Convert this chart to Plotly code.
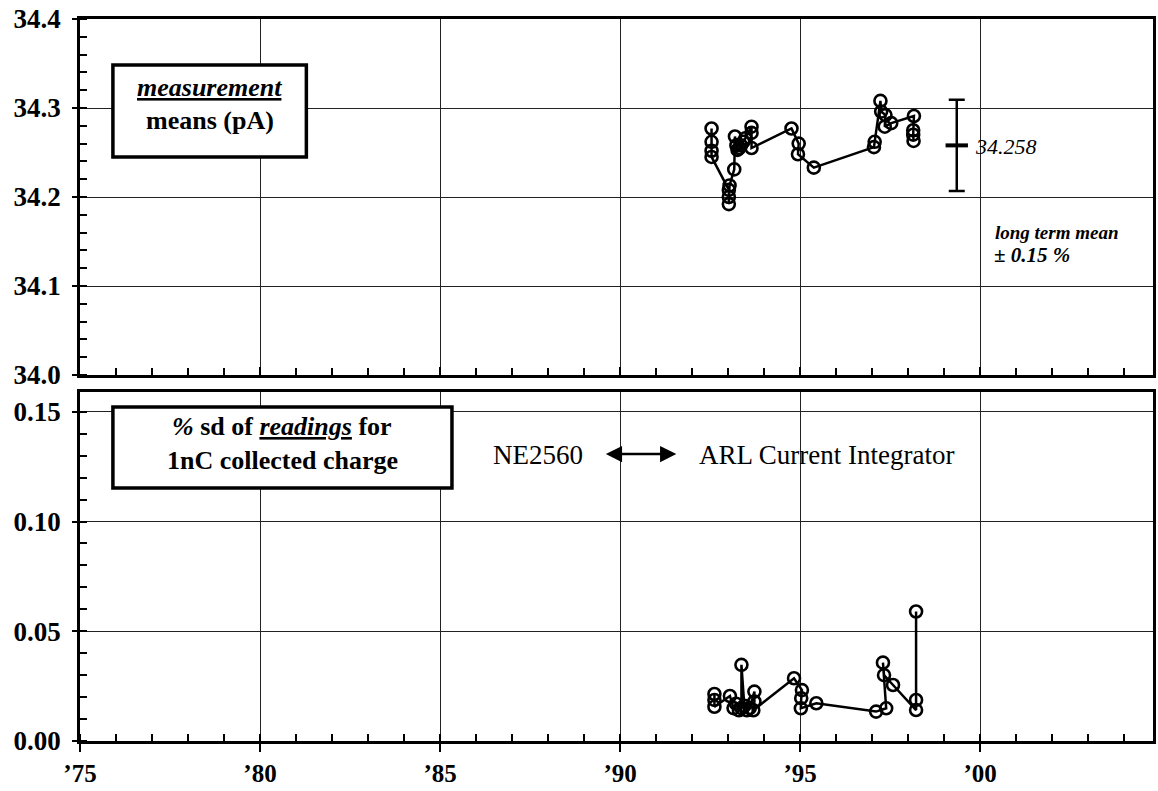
import plotly.graph_objects as go

# ---------------- data ----------------
top_years = [1992.54, 1992.54, 1992.54, 1992.54, 1993.02, 1993.02, 1993.02, 1993.04,
             1993.17, 1993.19, 1993.23, 1993.26, 1993.31, 1993.36, 1993.42, 1993.48,
             1993.65, 1993.65, 1993.65, 1994.76, 1994.96, 1994.94, 1995.38, 1997.05,
             1997.07, 1997.23, 1997.25, 1997.37, 1997.35, 1997.53, 1998.16, 1998.14,
             1998.14, 1998.15]
top_vals = [34.277, 34.262, 34.252, 34.245, 34.208, 34.200, 34.192, 34.213,
            34.231, 34.268, 34.258, 34.253, 34.255, 34.258, 34.262, 34.266,
            34.279, 34.272, 34.255, 34.277, 34.260, 34.248, 34.233, 34.256,
            34.262, 34.308, 34.296, 34.292, 34.279, 34.283, 34.291, 34.275,
            34.270, 34.263]

bot_years = [1992.62, 1992.62, 1992.62, 1993.05, 1993.15, 1993.22, 1993.30, 1993.37,
             1993.37, 1993.45, 1993.52, 1993.60, 1993.73, 1993.73, 1993.70, 1994.83,
             1995.05, 1995.03, 1995.02, 1995.45, 1997.11, 1997.39, 1997.30, 1997.33,
             1997.58, 1998.22, 1998.22, 1998.22]
bot_vals = [0.0214, 0.0187, 0.0156, 0.0205, 0.0150, 0.0170, 0.0140, 0.0150,
            0.0347, 0.0160, 0.0140, 0.0150, 0.0225, 0.0180, 0.0140, 0.0286,
            0.0232, 0.0195, 0.0149, 0.0172, 0.0134, 0.0149, 0.0357, 0.0300,
            0.0255, 0.0141, 0.0187, 0.0590]

long_term_mean = 34.258
long_term_pct = 0.15
mean_year = 1999.35

year_ticks = [1975, 1980, 1985, 1990, 1995, 2000]
year_labels = ["\u201975", "\u201980", "\u201985", "\u201990", "\u201995", "\u201900"]
top_ticks = [34.0, 34.1, 34.2, 34.3, 34.4]
bot_ticks = [0.00, 0.05, 0.10, 0.15]

# ---------------- figure ----------------
W, H = 1158, 791
ML, MR, MT, MB = 80, 2, 19, 50
PW, PH = W - ML - MR, H - MT - MB


def pxx(p):
    return (p - ML) / PW


def pxy(p):
    return (H - MB - p) / PH


FONT = "Liberation Serif"
marker = dict(symbol="circle-open", size=12, color="black", line=dict(width=2.6, color="black"))

fig = go.Figure()
fig.add_trace(go.Scatter(x=top_years, y=top_vals, mode="lines+markers",
                         line=dict(color="black", width=2.5), marker=marker,
                         xaxis="x", yaxis="y", showlegend=False))
fig.add_trace(go.Scatter(x=bot_years, y=bot_vals, mode="lines+markers",
                         line=dict(color="black", width=2.5), marker=marker,
                         xaxis="x2", yaxis="y2", showlegend=False))
err = long_term_mean * long_term_pct / 100
fig.add_trace(go.Scatter(x=[mean_year], y=[long_term_mean], mode="markers",
                         marker=dict(symbol="line-ew", size=16, line=dict(width=4, color="black"), color="black"),
                         error_y=dict(type="data", array=[err], visible=True, color="black",
                                      thickness=2.5, width=8),
                         xaxis="x", yaxis="y", showlegend=False))

xtickfont = dict(family=FONT, size=25, weight="bold", color="black")
ytickfont = dict(family=FONT, size=27, weight="bold", color="black")
xr = [1975, 2004.8]
common_x = dict(range=xr, showline=True, linewidth=2.5, linecolor="black", mirror=True,
                showgrid=True, gridcolor="#222", gridwidth=1, zeroline=False,
                tickvals=year_ticks,
                minor=dict(dtick=1, tick0=1975, ticks="inside", ticklen=7, tickwidth=2,
                           tickcolor="black", showgrid=False))
fig.update_layout(
    width=W, height=H,
    margin=dict(l=ML, r=MR, t=MT, b=MB),
    paper_bgcolor="white", plot_bgcolor="white",
    font=dict(family=FONT, color="black"),
    xaxis=dict(common_x, anchor="y", showticklabels=False, ticks="inside", ticklen=8,
               tickwidth=2, tickcolor="black"),
    xaxis2=dict(common_x, anchor="y2", ticktext=year_labels, ticks="outside", ticklen=8,
                tickwidth=2, tickcolor="black", ticklabelstandoff=0, tickfont=xtickfont),
    yaxis=dict(domain=[pxy(375), 1], range=[34.0, 34.4], tickvals=top_ticks,
               tickformat=".1f", showline=True, linewidth=2.5, linecolor="black", mirror=True,
               showgrid=True, gridcolor="#222", gridwidth=1, zeroline=False,
               ticks="outside", ticklen=5, tickwidth=2, tickcolor="black", ticklabelstandoff=6,
               tickfont=ytickfont,
               minor=dict(dtick=0.02, ticks="inside", ticklen=7, tickwidth=2,
                          tickcolor="black", showgrid=False)),
    yaxis2=dict(domain=[0, pxy(392)], range=[0, 0.159], tickvals=bot_ticks,
                tickformat=".2f", showline=True, linewidth=2.5, linecolor="black", mirror=True,
                showgrid=True, gridcolor="#222", gridwidth=1, zeroline=False,
                ticks="outside", ticklen=5, tickwidth=2, tickcolor="black", ticklabelstandoff=6,
                tickfont=ytickfont,
                minor=dict(dtick=0.01, tick0=0, ticks="inside", ticklen=7, tickwidth=2,
                           tickcolor="black", showgrid=False)),
)

# label boxes
fig.add_shape(type="rect", xref="paper", yref="paper",
              x0=pxx(113), x1=pxx(307), y0=pxy(157), y1=pxy(65),
              line=dict(color="black", width=3.5), fillcolor="white", layer="above")
fig.add_shape(type="rect", xref="paper", yref="paper",
              x0=pxx(113), x1=pxx(453), y0=pxy(488), y1=pxy(407),
              line=dict(color="black", width=3.5), fillcolor="white", layer="above")


def ann(text, x, y, size, xanchor="center", **kw):
    fig.add_annotation(text=text, xref="paper", yref="paper", x=pxx(x), y=pxy(y),
                       xanchor=xanchor, yanchor="middle", showarrow=False,
                       font=dict(family=FONT, size=size, color="black"), **kw)


ann("<b><i><u>measurement</u></i></b>", 210, 88, 26)
ann("<b>means (pA)</b>", 210, 121, 26)
ann("<b><i>%</i> sd of <i><u>readings</u></i> for</b>", 283, 427, 26)
ann("<b>1nC collected charge</b>", 283, 461, 26)

ann("<i>34.258</i>", 975, 146, 22, xanchor="left")
ann("<b><i>long term mean</i></b>", 996, 233, 19, xanchor="left")
ann("<b><i>\u00b1 0.15 %</i></b>", 995, 255, 21, xanchor="left")

ann("NE2560", 586, 455, 27, xanchor="right")
ann("ARL Current Integrator", 699, 455, 27, xanchor="left")
fig.add_annotation(xref="paper", yref="paper", axref="pixel", ayref="pixel",
                   x=pxx(678), y=pxy(454), ax=-72, ay=0, text="",
                   showarrow=True, arrowhead=2, startarrowhead=2, arrowside="end+start",
                   arrowsize=1.3, startarrowsize=1.3, arrowwidth=2.5, arrowcolor="black")

fig.write_html("out.html")
